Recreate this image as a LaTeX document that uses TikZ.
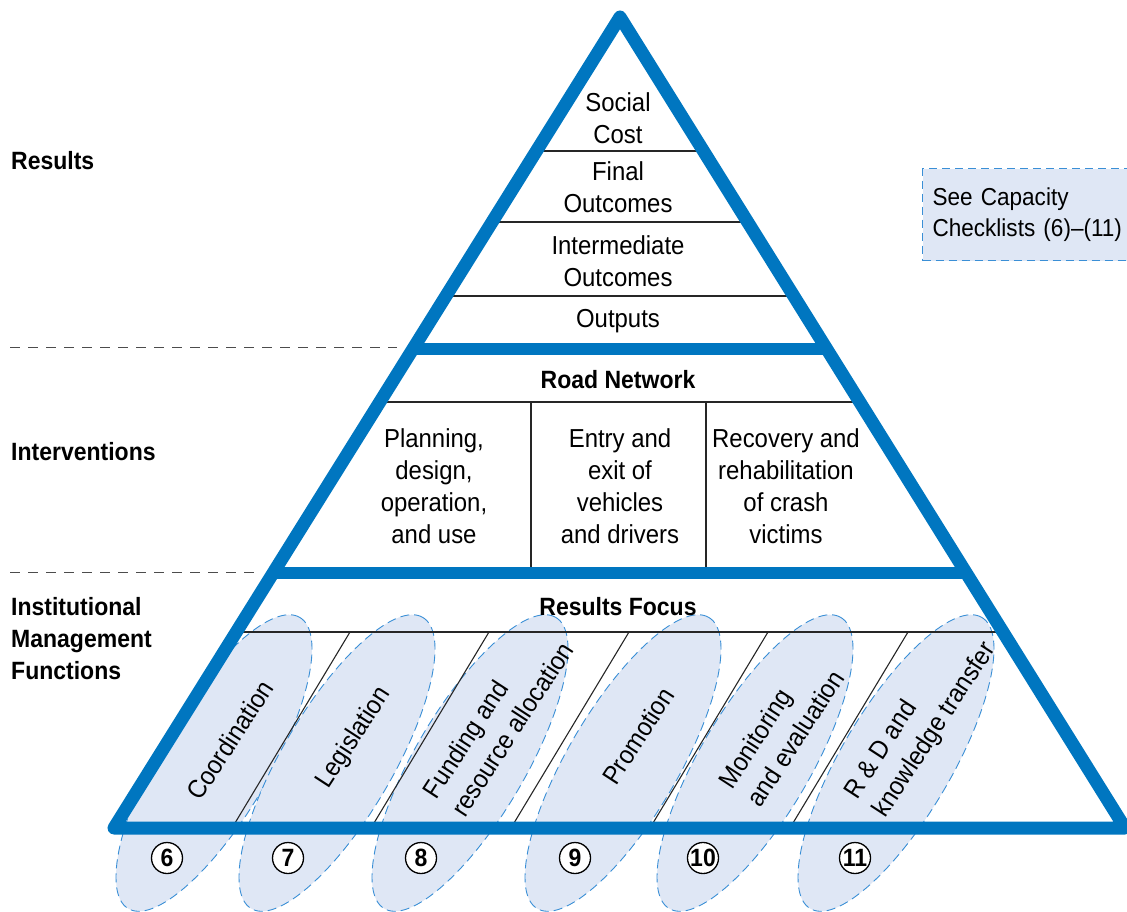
\documentclass[tikz,border=0pt]{standalone}
\usepackage{fontspec}
\setmainfont{Liberation Sans}[FakeStretch=0.92]
\usetikzlibrary{shapes.geometric,calc}
\definecolor{tri}{HTML}{0076C0}
\definecolor{ellfill}{HTML}{DFE7F5}
\definecolor{elldraw}{HTML}{3A8FD6}
\begin{document}
\begin{tikzpicture}[x=1pt,y=-1pt,
  txt/.style={font=\fontsize{26}{32}\selectfont, align=center, inner sep=0pt},
  boldtxt/.style={font=\fontsize{25}{32}\selectfont\bfseries, align=center, inner sep=0pt},
  side/.style={boldtxt, anchor=west, align=left},
  ell/.style={ellipse, draw=elldraw, fill=ellfill, dash pattern=on 9pt off 5pt, line width=0.9pt, minimum width=338pt, minimum height=110pt, inner sep=0pt, rotate=59.5},
  eltxt/.style={font=\fontsize{26}{34}\selectfont, align=left, inner sep=0pt, rotate=57},
  num/.style={circle, draw=black, fill=white, line width=1.3pt, minimum size=31pt, inner sep=0pt, font=\fontsize{25}{28}\selectfont\bfseries},
  thinline/.style={draw=black!85, line width=1.1pt},
  tristroke/.style={draw=tri, line width=13pt, line join=round},
  levelline/.style={draw=tri, line width=12pt},
  sepline/.style={draw=black!70, line width=0.9pt, dash pattern=on 10pt off 8pt},
  capbox/.style={draw=elldraw, fill=ellfill, dash pattern=on 8pt off 5pt, line width=1.2pt, align=left, inner xsep=10pt, text width=240pt, minimum height=92pt, font=\fontsize{24.5}{31}\selectfont}
]
\useasboundingbox (0,0) rectangle (1127,912);

% ellipses
\node[ell] (e6) at (214,763) {};
\node[ell] (e7) at (337,763) {};
\node[ell] (e8) at (470,763) {};
\node[ell] (e9) at (623,763) {};
\node[ell] (e10) at (755,763) {};
\node[ell] (e11) at (896,763) {};

% capacity box
\node[capbox, anchor=north west] (cap) at (922,168) {See Capacity\\Checklists (6)–(11)};

% triangle geometry
\coordinate (A) at (620,17);
\coordinate (L) at (114,828);
\coordinate (R) at (1125,828);
\foreach \n/\t in {151/0.1652,222/0.2528,296/0.3440,349/0.4094,402/0.4747,573/0.6856,632/0.7583}{
  \coordinate (l\n) at ($(A)!\t!(L)$);
  \coordinate (r\n) at ($(A)!\t!(R)$);
}

% thin dividers
\draw[thinline] (l151) -- (r151);
\draw[thinline] (l222) -- (r222);
\draw[thinline] (l296) -- (r296);
\draw[thinline] (l402) -- (r402);
\draw[thinline] (l632) -- (r632);
\coordinate (v1t) at (531,402); \coordinate (v1b) at (531,573);
\coordinate (v2t) at (706,402); \coordinate (v2b) at (706,573);
\draw[thinline] (v1t) -- (v1b);
\draw[thinline] (v2t) -- (v2b);
\foreach \x [count=\i] in {350,489,629,768,908}{
  \coordinate (dt\i) at (\x,632);
  \coordinate (db\i) at ($(dt\i)+(-118,196)$);
  \draw[thinline] (dt\i) -- (db\i);
}

% triangle strokes
\draw[levelline] (l349) -- (r349);
\draw[levelline] (l573) -- (r573);
\draw[tristroke] (A) -- (L) -- (R) -- cycle;

% dashed separators
\coordinate (s1a) at (10,347); \coordinate (s1b) at (397,347);
\coordinate (s2a) at (10,572); \coordinate (s2b) at (255,572);
\draw[sepline] (s1a) -- (s1b);
\draw[sepline] (s2a) -- (s2b);

% top texts
\node[txt] (sc) at (618,118) {Social\\Cost};
\node[txt] (fo) at (618,187) {Final\\Outcomes};
\node[txt] (io) at (618,261) {Intermediate\\Outcomes};
\node[txt] (op) at (618,321) {Outputs};
\node[boldtxt] (rn) at (618,380) {Road Network};
\node[txt] (pd) at (434,486) {Planning,\\design,\\operation,\\and use};
\node[txt] (ee) at (620,486) {Entry and\\exit of\\vehicles\\and drivers};
\node[txt] (rr) at (786,486) {Recovery and\\rehabilitation\\of crash\\victims};
\node[boldtxt] (rf) at (618,607) {Results Focus};

% side labels
\node[side] (lres) at (11,161) {Results};
\node[side] (lint) at (11,452) {Interventions};
\node[side] (limf) at (11,639) {Institutional\\Management\\Functions};

% ellipse labels
\node[eltxt] (t6) at (230,740) {Coordination};
\node[eltxt] (t7) at (354,738) {Legislation};
\node[eltxt] (t8) at (498,720) {Funding and\\resource allocation};
\node[eltxt] (t9) at (638,736) {Promotion};
\node[eltxt] (t10) at (781,729) {Monitoring\\and evaluation};
\node[eltxt] (t11) at (921,721) {R \& D and\\knowledge transfer};

% numbers
\node[num] (n6) at (167,858) {6};
\node[num] (n7) at (288,858) {7};
\node[num] (n8) at (421,858) {8};
\node[num] (n9) at (575,858) {9};
\node[num] (n10) at (703,858) {10};
\node[num] (n11) at (855,858) {11};
\end{tikzpicture}
\end{document}
